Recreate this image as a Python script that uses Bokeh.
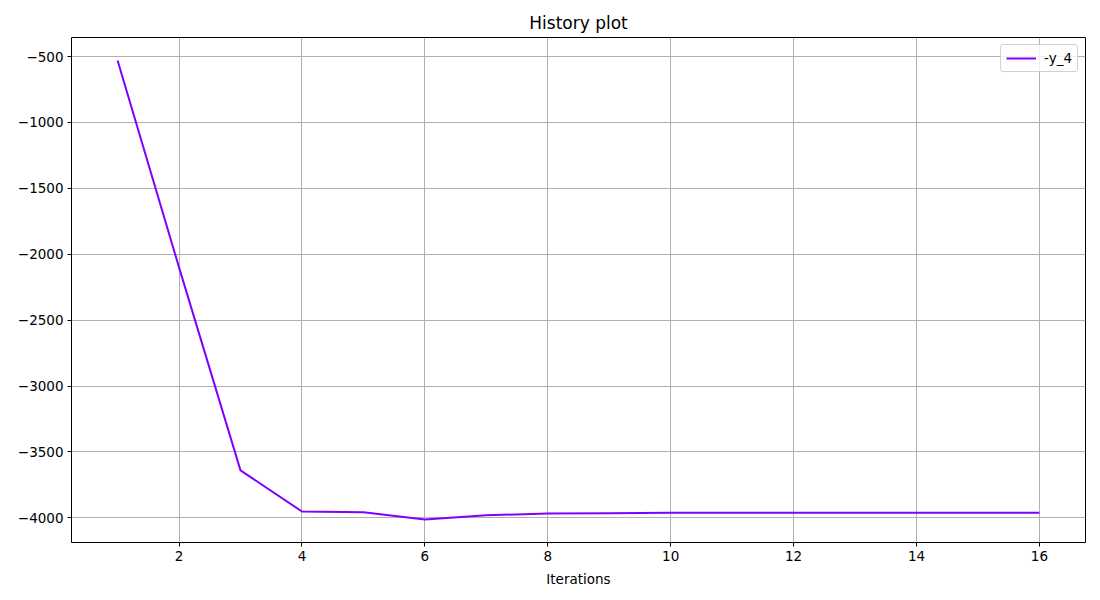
from bokeh.plotting import figure
from bokeh.models import FixedTicker, Range1d, Legend, LegendItem
from bokeh.embed import file_html
from bokeh.resources import INLINE

iterations = [1, 2, 3, 4, 5, 6, 7, 8, 9, 10, 11, 12, 13, 14, 15, 16]
neg_y4 = [-530, -2100, -3640, -3952, -3957, -4013, -3980, -3968, -3965,
          -3962, -3962, -3962, -3962, -3962, -3962, -3962]
x_ticks = [2, 4, 6, 8, 10, 12, 14, 16]
y_ticks = [-500, -1000, -1500, -2000, -2500, -3000, -3500, -4000]

FONT = "DejaVu Sans"

ymin, ymax = min(neg_y4), max(neg_y4)
ypad = (ymax - ymin) * 0.05
xmin, xmax = min(iterations), max(iterations)
xpad = (xmax - xmin) * 0.05

p = figure(width=1092, height=592, output_backend="svg", toolbar_location=None,
           x_range=Range1d(xmin - xpad, xmax + xpad),
           y_range=Range1d(ymin - ypad, ymax + ypad),
           min_border_left=71, min_border_right=7, min_border_top=37,
           min_border_bottom=50)

p.title.text = "History plot"
p.title.align = "center"
p.title.text_font = FONT
p.title.text_font_size = "17px"
p.title.text_font_style = "normal"
p.title.text_color = "black"

p.outline_line_color = "black"
p.outline_line_width = 1
p.outline_line_alpha = 1

for ax in (p.xaxis[0], p.yaxis[0]):
    ax.axis_line_color = None
    ax.major_tick_in = 0
    ax.major_tick_out = 4
    ax.minor_tick_line_color = None
    ax.major_label_text_font = FONT
    ax.major_label_text_font_size = "13.5px"
    ax.major_label_text_color = "black"
    ax.axis_label_text_font = FONT
    ax.axis_label_text_font_size = "13.5px"
    ax.axis_label_text_font_style = "normal"
    ax.axis_label_text_color = "black"

p.xaxis.ticker = FixedTicker(ticks=x_ticks)
p.yaxis.ticker = FixedTicker(ticks=y_ticks)
p.yaxis.major_label_overrides = {t: str(t).replace("-", "\u2212") for t in y_ticks}
p.xaxis.axis_label = "Iterations"
p.xaxis.axis_label_standoff = 7
p.xaxis.major_label_standoff = 4
p.yaxis.major_label_standoff = 4

p.grid.grid_line_color = "#b0b0b0"
p.grid.grid_line_width = 1

r = p.line(iterations, neg_y4, line_color="#8000ff", line_width=2)

legend = Legend(items=[LegendItem(label="-y_4", renderers=[r])],
                location="top_right", margin=7, padding=5, spacing=0,
                label_text_font=FONT, label_text_font_size="13.5px",
                label_text_color="black",
                label_standoff=8, glyph_width=30, glyph_height=16,
                border_line_color="#d0d0d0", border_line_alpha=1,
                border_radius=3, background_fill_alpha=0.8)
p.add_layout(legend)

open("out.html", "w").write(file_html(p, INLINE))
